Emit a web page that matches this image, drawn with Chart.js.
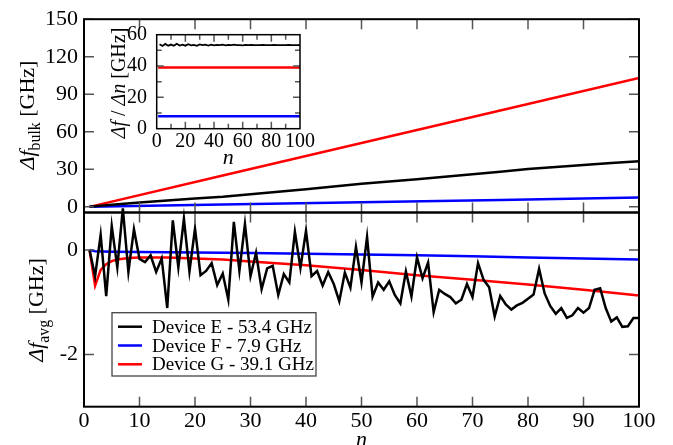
<!DOCTYPE html>
<html lang="en">
<head>
<meta charset="UTF-8" />
<title>Frequency shift vs n</title>
<script src="https://cdn.jsdelivr.net/npm/chart.js"></script>
<style>
    body { margin: 0; background: #fff; }
    #wrap { position: relative; width: 673px; height: 445px; overflow: hidden; }
    canvas { position: absolute; left: 0; top: 0; }
</style>
</head>
<body>
<div id="wrap">
    <canvas id="bulkChart" width="673" height="445"></canvas>
    <canvas id="avgChart" width="673" height="445"></canvas>
    <canvas id="insetChart" width="673" height="445"></canvas>
</div>
<script>
    const serif = "'Liberation Serif', 'Times New Roman', serif";

    const deviceLabels = ['Device E - 53.4 GHz', 'Device F - 7.9 GHz', 'Device G - 39.1 GHz'];
    const deviceColors = ['#000000', '#0000ff', '#ff0000'];

    // top panel: Δf_bulk
    const bulkTicks = [0, 30, 60, 90, 120, 150];
    const bulkN = [1, 5, 10, 15, 20, 25, 30, 35, 40, 45, 50, 55, 60, 65, 70, 75, 80, 85, 90, 95, 100];
    const bulkE = [0, 1.6, 3.4, 5.0, 6.6, 8.0, 10.0, 12.0, 14.0, 16.2, 18.5, 20.2, 22.0, 24.0, 26.0, 28.0, 30.2, 31.8, 33.5, 35.0, 36.5];
    const lineN = [1, 25, 50, 75, 100];
    const bulkF = [0, 1.8, 3.6, 5.5, 7.4];
    const bulkG = [0, 25, 51, 77, 103];

    // bottom panel: Δf_avg
    const avgTicks = [0, -2];
    const nTicks = [0, 10, 20, 30, 40, 50, 60, 70, 80, 90, 100];
    const avgN = [1, 2, 3, 4, 5, 6, 7, 8, 9, 10, 11, 12, 13, 14, 15, 16, 17, 18, 19, 20,
        21, 22, 23, 24, 25, 26, 27, 28, 29, 30, 31, 32, 33, 34, 35, 36, 37, 38, 39, 40,
        41, 42, 43, 44, 45, 46, 47, 48, 49, 50, 51, 52, 53, 54, 55, 56, 57, 58, 59, 60,
        61, 62, 63, 64, 65, 66, 67, 68, 69, 70, 71, 72, 73, 74, 75, 76, 77, 78, 79, 80,
        81, 82, 83, 84, 85, 86, 87, 88, 89, 90, 91, 92, 93, 94, 95, 96, 97, 98, 99, 100];
    const avgE = [0, -0.5, 0.29, -0.88, 0.46, -0.33, 0.8, -0.42, 0.4, -0.17,
        -0.23, -0.1, -0.42, -0.16, -1.11, 0.57, -0.33, 0.6, -0.41, 0.41,
        -0.48, -0.4, -0.25, -0.67, -0.45, -0.95, 0.54, -0.4, 0.5, -0.5,
        -0.05, -0.75, -0.35, -0.3, -0.86, -0.46, -0.62, 0.35, -0.34, 0.37,
        -0.5, -0.4, -0.68, -0.42, -0.65, -0.98, -0.43, -0.72, 0.06, -0.62,
        0.25, -0.89, -0.62, -0.76, -0.6, -0.86, -1.02, -0.41, -0.89, -0.14,
        -0.54, -0.24, -1.19, -0.76, -0.84, -0.9, -1.02, -0.95, -0.65, -0.9,
        -0.25, -0.57, -0.71, -1.27, -0.88, -1.04, -1.14, -1.06, -1.01, -0.93,
        -0.85, -0.36, -0.83, -1.07, -1.22, -1.11, -1.3, -1.25, -1.11, -1.2,
        -1.11, -0.76, -0.73, -1.11, -1.37, -1.29, -1.47, -1.46, -1.3, -1.3];
    const avgFN = [1, 2, 5, 10, 20, 30, 40, 50, 60, 70, 80, 90, 100];
    const avgF = [0, -0.02, -0.03, -0.035, -0.045, -0.055, -0.07, -0.085, -0.1, -0.12, -0.14, -0.16, -0.18];
    const avgGN = [1, 2, 3, 4, 5, 6, 8, 10, 15, 20, 25, 30, 40, 50, 60, 70, 80, 90, 100];
    const avgG = [0, -0.68, -0.38, -0.27, -0.21, -0.18, -0.15, -0.14, -0.14, -0.16, -0.18, -0.22, -0.29, -0.38, -0.48, -0.57, -0.66, -0.76, -0.87];

    // inset: Δf / Δn
    const insetXTicks = [0, 20, 40, 60, 80, 100];
    const insetYTicks = [0, 20, 40, 60];
    const insetN = [2, 4, 6, 8, 10, 12, 14, 16, 18, 20, 22, 24, 26, 28, 30, 32, 34, 36, 38, 40,
        42, 44, 46, 48, 50, 52, 54, 56, 58, 60, 62, 64, 66, 68, 70, 72, 74, 76, 78, 80,
        82, 84, 86, 88, 90, 92, 94, 96, 98, 100];
    const insetE = [53.9, 52.8, 54.1, 53.0, 53.7, 52.9, 54.2, 53.1, 53.6, 53.0,
        53.9, 53.2, 53.5, 52.9, 53.8, 53.3, 53.6, 53.1, 53.7, 53.2,
        53.5, 53.3, 53.6, 53.2, 53.5, 53.3, 53.6, 53.3, 53.4, 53.2,
        53.5, 53.3, 53.5, 53.3, 53.4, 53.3, 53.5, 53.4, 53.3, 53.4,
        53.5, 53.3, 53.4, 53.4, 53.3, 53.5, 53.4, 53.3, 53.4, 53.4];
    const insetLineN = [1, 100];
    const insetF = [7.9, 7.9];
    const insetG = [39.1, 39.1];

    const pts = (xs, ys) => xs.map((x, i) => ({ x, y: ys[i] }));
    const fixTicks = vals => s => { s.ticks = vals.map(v => ({ value: v })); };

    // frame round the plot area + inward ticks on all four sides
    const frameTicks = {
        id: 'frameTicks',
        beforeDatasetsDraw(chart, args, opts) {
            if (!opts.fill) return;
            const a = chart.chartArea;
            chart.ctx.save();
            chart.ctx.fillStyle = '#fff';
            chart.ctx.fillRect(a.left, a.top, a.width, a.height);
            chart.ctx.restore();
        },
        afterDatasetsDraw(chart, args, opts) {
            const { ctx, chartArea: a, scales } = chart;
            ctx.save();
            ctx.strokeStyle = '#555';
            ctx.lineWidth = 1.5;
            ctx.beginPath();
            (opts.x || []).forEach(t => {
                const px = scales.x.getPixelForValue(t[0]);
                ctx.moveTo(px, a.top); ctx.lineTo(px, a.top + t[1]);
                ctx.moveTo(px, a.bottom); ctx.lineTo(px, a.bottom - t[1]);
            });
            (opts.y || []).forEach(t => {
                const py = scales.y.getPixelForValue(t[0]);
                ctx.moveTo(a.left, py); ctx.lineTo(a.left + t[1], py);
                ctx.moveTo(a.right, py); ctx.lineTo(a.right - t[1], py);
            });
            ctx.stroke();
            ctx.strokeStyle = '#000';
            ctx.lineWidth = opts.frame || 2;
            ctx.strokeRect(a.left, a.top, a.width, a.height);
            ctx.restore();
        }
    };

    // rotated y titles with italic symbol and subscript
    const axisTitles = {
        id: 'axisTitles',
        afterDraw(chart, args, opts) {
            const ctx = chart.ctx;
            (opts.items || []).forEach(item => {
                ctx.save();
                ctx.translate(item.x, item.y);
                ctx.rotate(-Math.PI / 2);
                ctx.fillStyle = '#000';
                ctx.textBaseline = 'alphabetic';
                const parts = item.parts.map(p => {
                    const size = p.sub ? item.size * 0.72 : item.size;
                    const font = (p.italic ? 'italic ' : '') + size + 'px ' + serif;
                    ctx.font = font;
                    return { text: p.text, sub: p.sub, font, w: ctx.measureText(p.text).width };
                });
                const total = parts.reduce((s, p) => s + p.w, 0);
                let cx = -total / 2;
                parts.forEach(p => {
                    ctx.font = p.font;
                    ctx.fillText(p.text, cx, p.sub ? item.size * 0.28 : 0);
                    cx += p.w;
                });
                ctx.restore();
            });
        }
    };

    // boxed legend inside the lower panel
    const legendBox = {
        id: 'legendBox',
        afterDraw(chart, args, opts) {
            if (!opts.box) return;
            const ctx = chart.ctx;
            const b = opts.box;
            ctx.save();
            ctx.fillStyle = '#fff';
            ctx.fillRect(b.x, b.y, b.w, b.h);
            ctx.strokeStyle = '#444';
            ctx.lineWidth = 1.3;
            ctx.strokeRect(b.x, b.y, b.w, b.h);
            ctx.font = opts.size + 'px ' + serif;
            ctx.textBaseline = 'alphabetic';
            chart.data.datasets.forEach((ds, i) => {
                const y = b.y + opts.first + i * opts.step;
                ctx.strokeStyle = ds.borderColor;
                ctx.lineWidth = 2.5;
                ctx.beginPath();
                ctx.moveTo(b.x + 6, y);
                ctx.lineTo(b.x + 30, y);
                ctx.stroke();
                ctx.fillStyle = '#000';
                ctx.fillText(ds.label, b.x + 40, y + 6);
            });
            ctx.restore();
        }
    };

    const tickFont = { family: serif, size: 22 };
    const xTickMarks = [10, 20, 30, 40, 50, 60, 70, 80, 90].map(v => [v, 10]);

    function lineSet(label, data, color, extra) {
        return Object.assign({
            label, data, borderColor: color, backgroundColor: color,
            borderWidth: 2.5, pointRadius: 0, tension: 0, fill: false
        }, extra || {});
    }

    const baseOptions = {
        responsive: false,
        animation: false,
        devicePixelRatio: 1,
        events: []
    };

    new Chart(document.getElementById('bulkChart'), {
        type: 'line',
        data: {
            datasets: [
                lineSet(deviceLabels[0], pts(bulkN, bulkE), deviceColors[0]),
                lineSet(deviceLabels[1], pts(lineN, bulkF), deviceColors[1]),
                lineSet(deviceLabels[2], pts(lineN, bulkG), deviceColors[2])
            ]
        },
        options: Object.assign({}, baseOptions, {
            layout: { padding: { top: 18, right: 34, bottom: 232.5, left: 0 } },
            scales: {
                x: { type: 'linear', min: 0, max: 100, display: false },
                y: {
                    type: 'linear', min: -4.5, max: 150,
                    afterBuildTicks: fixTicks(bulkTicks),
                    afterFit: s => { s.width = 84; },
                    grid: { display: false, drawTicks: false },
                    border: { display: false },
                    ticks: { padding: 6, font: tickFont, color: '#000' }
                }
            },
            plugins: {
                legend: { display: false },
                tooltip: { enabled: false },
                frameTicks: { x: xTickMarks, y: bulkTicks.map(v => [v, 10]), frame: 2 },
                axisTitles: {
                    items: [{
                        x: 34, y: 115, size: 22,
                        parts: [{ text: 'Δf', italic: true }, { text: 'bulk', sub: true }, { text: ' [GHz]' }]
                    }]
                }
            }
        }),
        plugins: [frameTicks, axisTitles]
    });

    new Chart(document.getElementById('avgChart'), {
        type: 'line',
        data: {
            datasets: [
                lineSet(deviceLabels[0], pts(avgN, avgE), deviceColors[0], { clip: false }),
                lineSet(deviceLabels[1], pts(avgFN, avgF), deviceColors[1]),
                lineSet(deviceLabels[2], pts(avgGN, avgG), deviceColors[2])
            ]
        },
        options: Object.assign({}, baseOptions, {
            layout: { padding: { top: 212.5, right: 34, bottom: 0, left: 0 } },
            scales: {
                x: {
                    type: 'linear', min: 0, max: 100,
                    afterBuildTicks: fixTicks(nTicks),
                    afterFit: s => { s.height = 38.3; },
                    grid: { display: false, drawTicks: false },
                    border: { display: false },
                    ticks: { padding: 1.4, font: tickFont, color: '#000', autoSkip: false, maxRotation: 0, minRotation: 0 },
                    title: {
                        display: true, text: 'n', color: '#000',
                        font: { family: serif, size: 22, style: 'italic', lineHeight: 1 },
                        padding: { top: 0, bottom: -6 }
                    }
                },
                y: {
                    type: 'linear', min: -3, max: 0.72,
                    afterBuildTicks: fixTicks(avgTicks),
                    afterFit: s => { s.width = 84; },
                    grid: { display: false, drawTicks: false },
                    border: { display: false },
                    ticks: { padding: 6, font: tickFont, color: '#000' }
                }
            },
            plugins: {
                legend: { display: false },
                tooltip: { enabled: false },
                frameTicks: { x: xTickMarks, y: avgTicks.map(v => [v, 10]), frame: 2 },
                axisTitles: {
                    items: [{
                        x: 43, y: 310, size: 22,
                        parts: [{ text: 'Δf', italic: true }, { text: 'avg', sub: true }, { text: ' [GHz]' }]
                    }]
                },
                legendBox: { box: { x: 112, y: 312.7, w: 204, h: 63.3 }, first: 14, step: 18.8, size: 19 }
            }
        }),
        plugins: [frameTicks, axisTitles, legendBox]
    });

    new Chart(document.getElementById('insetChart'), {
        type: 'line',
        data: {
            datasets: [
                lineSet(deviceLabels[0], pts(insetN, insetE), deviceColors[0], { borderWidth: 1.8 }),
                lineSet(deviceLabels[1], pts(insetLineN, insetF), deviceColors[1]),
                lineSet(deviceLabels[2], pts(insetLineN, insetG), deviceColors[2])
            ]
        },
        options: Object.assign({}, baseOptions, {
            layout: { padding: { top: 34.7, right: 373, bottom: 280.3, left: 0 } },
            scales: {
                x: {
                    type: 'linear', min: 0, max: 100,
                    afterBuildTicks: fixTicks(insetXTicks),
                    afterFit: s => { s.height = 36; },
                    grid: { display: false, drawTicks: false },
                    border: { display: false },
                    ticks: { padding: 1, font: { family: serif, size: 20 }, color: '#000', autoSkip: false, maxRotation: 0, minRotation: 0 },
                    title: {
                        display: true, text: 'n', color: '#000',
                        font: { family: serif, size: 22, style: 'italic', lineHeight: 1 },
                        padding: { top: 0, bottom: -5 }
                    }
                },
                y: {
                    type: 'linear', min: 0, max: 60,
                    afterBuildTicks: fixTicks(insetYTicks),
                    afterFit: s => { s.width = 156.7; },
                    grid: { display: false, drawTicks: false },
                    border: { display: false },
                    ticks: { padding: 9.7, font: { family: serif, size: 20 }, color: '#000' }
                }
            },
            plugins: {
                legend: { display: false },
                tooltip: { enabled: false },
                frameTicks: {
                    fill: true, frame: 1.5,
                    x: [[10, 5], [20, 7], [30, 5], [40, 7], [50, 5], [60, 7], [70, 5], [80, 7], [90, 5]],
                    y: [[10, 5], [20, 7], [30, 5], [40, 7], [50, 5]]
                },
                axisTitles: {
                    items: [{
                        x: 125, y: 83, size: 20,
                        parts: [{ text: 'Δf', italic: true }, { text: ' / ' }, { text: 'Δn', italic: true }, { text: ' [GHz]' }]
                    }]
                }
            }
        }),
        plugins: [frameTicks, axisTitles]
    });
</script>
</body>
</html>
